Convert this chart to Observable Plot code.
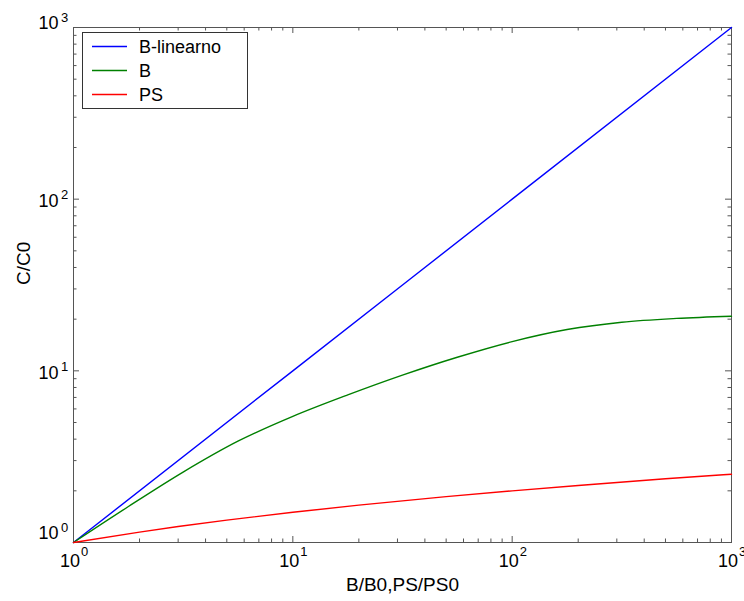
<!DOCTYPE html>
<html><head><meta charset="utf-8">
<script src="https://cdn.jsdelivr.net/npm/d3@7"></script>
<script src="https://cdn.jsdelivr.net/npm/@observablehq/plot@0.6"></script>
<style>
body{margin:0;background:#fff;}
#chart{width:744px;height:601px;}
</style>
</head><body><div id="chart"></div>
<script>
// ---- data ----
const seriesNames = ["B-linearno", "B", "PS"];
const seriesColors = ["#0000ff", "#008000", "#ff0000"];

const blueX = [1, 10, 100, 1000];
const blueY = [1, 10, 100, 1000];

const greenX = [1, 1.78, 3.16, 5.62, 10, 17.8, 31.6, 56.2, 100, 178, 316, 562, 1000];
const greenY = [1, 1.62, 2.57, 3.89, 5.43, 7.24, 9.44, 12.0, 14.8, 17.4, 19.2, 20.2, 20.8];

const redX = [1, 2, 3, 5, 10, 20, 50, 100, 200, 500, 1000];
const redY = [1, 1.15, 1.24, 1.35, 1.5, 1.65, 1.85, 2.0, 2.15, 2.35, 2.5];

const majorTicks = [1, 10, 100, 1000];
const majorExps = ["0", "1", "2", "3"];
const minorTicks = [2,3,4,5,6,7,8,9,20,30,40,50,60,70,80,90,200,300,400,500,600,700,800,900];
const yLabelShift = [-11, 0, 0, -6];

const xLabel = "B/B0,PS/PS0";
const yLabel = "C/C0";

// ---- build rows ----
const rows = [];
[[blueX, blueY], [greenX, greenY], [redX, redY]].forEach(([xs, ys], s) => {
  xs.forEach((x, i) => rows.push({series: seriesNames[s], x, y: ys[i]}));
});

const W = 744, H = 601;
const mt = 27, mr = 13, mb = 59, ml = 73;
const pw = W - ml - mr, ph = H - mt - mb;
const font = "Liberation Sans, Arial, Helvetica, sans-serif";
const tickColor = "#555";

const yTickLabelMarks = majorTicks.flatMap((t, i) => [
  Plot.text([t], {y: d => d, frameAnchor: "left", text: () => "10", dx: -15, dy: 2 + yLabelShift[i], fontSize: 18, textAnchor: "end", fill: "#000"}),
  Plot.text([t], {y: d => d, frameAnchor: "left", text: () => majorExps[i], dx: -12.5, dy: -4 + yLabelShift[i], fontSize: 13, textAnchor: "start", fill: "#000"})
]);

const plot = Plot.plot({
  width: W, height: H,
  marginTop: mt, marginRight: mr, marginBottom: mb, marginLeft: ml,
  style: {fontFamily: font, background: "#fff", color: "#000"},
  x: {type: "log", domain: [1, 1000], axis: null},
  y: {type: "log", domain: [1, 1000], axis: null},
  color: {domain: seriesNames, range: seriesColors},
  marks: [
    Plot.frame({stroke: tickColor}),
    // inward ticks, bottom/top
    Plot.tickX(majorTicks, {x: d => d, insetTop: ph - 6, stroke: tickColor}),
    Plot.tickX(majorTicks, {x: d => d, insetBottom: ph - 6, stroke: tickColor}),
    Plot.tickX(minorTicks, {x: d => d, insetTop: ph - 3.5, stroke: tickColor}),
    Plot.tickX(minorTicks, {x: d => d, insetBottom: ph - 3.5, stroke: tickColor}),
    // inward ticks, left/right
    Plot.tickY(majorTicks, {y: d => d, insetRight: pw - 6, stroke: tickColor}),
    Plot.tickY(majorTicks, {y: d => d, insetLeft: pw - 6, stroke: tickColor}),
    Plot.tickY(minorTicks, {y: d => d, insetRight: pw - 3.5, stroke: tickColor}),
    Plot.tickY(minorTicks, {y: d => d, insetLeft: pw - 3.5, stroke: tickColor}),
    // lines
    Plot.line(rows, {x: "x", y: "y", z: "series", stroke: "series", strokeWidth: 1.4, curve: "monotone-x"}),
    // x tick labels
    Plot.text(majorTicks, {x: d => d, frameAnchor: "bottom", text: () => "10", dx: -3.5, dy: 24.5, fontSize: 18, textAnchor: "middle", fill: "#000"}),
    Plot.text(majorTicks, {x: d => d, frameAnchor: "bottom", text: (d, i) => majorExps[i], dx: 7.5, dy: 13.5, fontSize: 13, textAnchor: "start", fill: "#000"}),
    // y tick labels
    ...yTickLabelMarks,
    // axis titles
    Plot.text([xLabel], {frameAnchor: "bottom", text: d => d, dy: 48, fontSize: 19, fill: "#000"}),
    Plot.text([yLabel], {frameAnchor: "left", text: d => d, dx: -50, rotate: -90, fontSize: 19, fill: "#000"})
  ]
});

document.getElementById("chart").appendChild(plot);

// legend
const svg = d3.select(plot);
const lg = svg.append("g").attr("font-family", font).attr("font-size", 18).attr("text-anchor", "start");
lg.append("rect").attr("x", 82.5).attr("y", 32.5).attr("width", 165).attr("height", 76)
  .attr("fill", "#fff").attr("stroke", "#333");
seriesNames.forEach((name, i) => {
  const yy = 46.5 + i * 24;
  lg.append("line").attr("x1", 92).attr("x2", 127).attr("y1", yy).attr("y2", yy)
    .attr("stroke", seriesColors[i]).attr("stroke-width", 1.4);
  lg.append("text").attr("x", 139).attr("y", yy).attr("dy", "0.35em")
    .attr("text-anchor", "start").attr("fill", "#000").text(name);
});
</script>
</body></html>
